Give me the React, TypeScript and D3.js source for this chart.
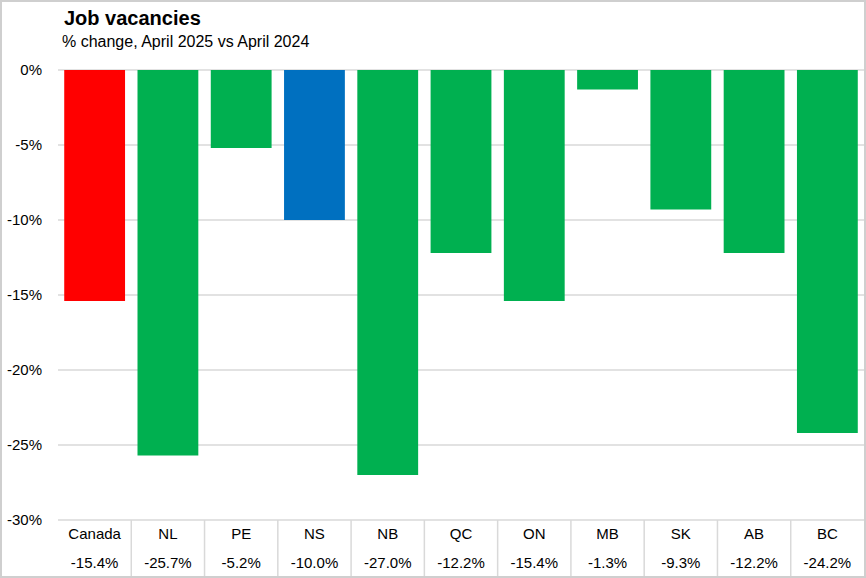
import React, { useEffect, useRef } from 'react'
import * as d3 from 'd3'

const categories = ['Canada', 'NL', 'PE', 'NS', 'NB', 'QC', 'ON', 'MB', 'SK', 'AB', 'BC']
const values = [-15.4, -25.7, -5.2, -10.0, -27.0, -12.2, -15.4, -1.3, -9.3, -12.2, -24.2]
const barColors = ['#FF0000', '#00B050', '#00B050', '#0070C0', '#00B050', '#00B050', '#00B050', '#00B050', '#00B050', '#00B050', '#00B050']
const yTicks = [0, -5, -10, -15, -20, -25, -30]

const FONT = '"Liberation Sans", Arial, sans-serif'

export default function App() {
  const svgRef = useRef<SVGSVGElement>(null)
  const width = 866
  const height = 578

  useEffect(() => {
    if (!svgRef.current) return
    const svg = d3.select(svgRef.current)
    svg.selectAll('*').remove()

    const left = 58
    const right = 864
    const top = 70
    const bottom = 520

    // background
    svg.append('rect')
      .attr('x', 0).attr('y', 0)
      .attr('width', width).attr('height', height)
      .attr('fill', '#fff')

    // title
    svg.append('text')
      .attr('x', 64).attr('y', 25)
      .style('font-family', FONT).style('font-size', '20px').style('font-weight', 'bold')
      .attr('fill', '#000')
      .text('Job vacancies')
    svg.append('text')
      .attr('x', 62).attr('y', 47)
      .style('font-family', FONT).style('font-size', '16px')
      .attr('fill', '#000')
      .text('% change, April 2025 vs April 2024')

    const x = d3.scaleBand().domain(categories).range([left, right]).paddingInner(0.17).paddingOuter(0.085)
    const xCol = d3.scaleBand().domain(categories).range([left, right]).padding(0)
    const y = d3.scaleLinear().domain([0, -30]).range([top, bottom])

    // gridlines
    svg.append('g')
      .selectAll('line')
      .data(yTicks)
      .join('line')
      .attr('x1', left).attr('x2', right)
      .attr('y1', (d) => y(d)).attr('y2', (d) => y(d))
      .attr('stroke', '#d9d9d9').attr('stroke-width', 1.5)

    // y labels
    svg.append('g')
      .selectAll('text')
      .data(yTicks)
      .join('text')
      .attr('x', 42)
      .attr('y', (d) => y(d) + 5)
      .attr('text-anchor', 'end')
      .style('font-family', FONT).style('font-size', '15px')
      .attr('fill', '#000')
      .text((d) => `${d}%`)

    // bars
    svg.append('g')
      .selectAll('rect')
      .data(values)
      .join('rect')
      .attr('x', (_, i) => x(categories[i]) || 0)
      .attr('y', y(0))
      .attr('width', x.bandwidth())
      .attr('height', (d) => y(d) - y(0))
      .attr('fill', (_, i) => barColors[i])

    // table separators
    svg.append('g')
      .selectAll('line')
      .data(categories.slice(1))
      .join('line')
      .attr('x1', (d) => xCol(d) || 0).attr('x2', (d) => xCol(d) || 0)
      .attr('y1', bottom).attr('y2', height - 2)
      .attr('stroke', '#d9d9d9').attr('stroke-width', 1.5)

    // category labels
    svg.append('g')
      .selectAll('text')
      .data(categories)
      .join('text')
      .attr('x', (d) => (xCol(d) || 0) + xCol.bandwidth() / 2)
      .attr('y', 539)
      .attr('text-anchor', 'middle')
      .style('font-family', FONT).style('font-size', '15px')
      .attr('fill', '#000')
      .text((d) => d)

    // value labels
    svg.append('g')
      .selectAll('text')
      .data(values)
      .join('text')
      .attr('x', (_, i) => (xCol(categories[i]) || 0) + xCol.bandwidth() / 2)
      .attr('y', 568)
      .attr('text-anchor', 'middle')
      .style('font-family', FONT).style('font-size', '15px')
      .attr('fill', '#000')
      .text((d) => `${d.toFixed(1)}%`)

    // outer border
    svg.append('rect')
      .attr('x', 1).attr('y', 1)
      .attr('width', width - 2).attr('height', height - 2)
      .attr('fill', 'none').attr('stroke', '#cfcfcf').attr('stroke-width', 2)
  }, [])

  return (
    <div style={{ position: 'fixed', left: 0, top: 0 }}>
      <svg ref={svgRef} width={width} height={height} style={{ display: 'block' }}></svg>
    </div>
  )
}
